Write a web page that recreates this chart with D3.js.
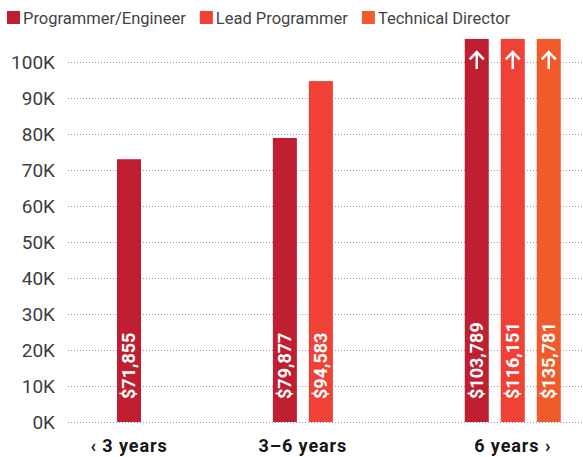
<!DOCTYPE html>
<html>
<head>
<meta charset="utf-8">
<script src="https://cdn.jsdelivr.net/npm/d3@7"></script>
<style>
  body { margin: 0; background: #fff; }
  svg { display: block; font-family: Roboto, "DejaVu Sans", sans-serif; }
</style>
</head>
<body>
<svg id="chart"></svg>
<script>
// categories and series
var categories = ["\u2039 3 years", "3\u20136 years", "6 years \u203a"];
var roles = ["Programmer/Engineer", "Lead Programmer", "Technical Director"];
var colors = ["#C01F32", "#EF4136", "#F15A2B"];

// bar heights as drawn in the picture (null = no bar)
var programmerEngineer = [73000, 78900, 103789];
var leadProgrammer = [null, 94700, 116151];
var technicalDirector = [null, null, 135781];

// printed labels
var programmerLabels = ["$71,855", "$79,877", "$103,789"];
var leadLabels = [null, "$94,583", "$116,151"];
var directorLabels = [null, null, "$135,781"];

var yTicks = [0, 10000, 20000, 30000, 40000, 50000, 60000, 70000, 80000, 90000, 100000];
var axisMax = 100000;   // anything above is drawn cut off with an arrow
var chartTop = 106400;  // value at the top edge of the bars

var W = 583, H = 457;
var margins = { top: 62, left: 68, bottom: 35, right: 0 };
var barStep = 36, barWidth = 24, groupGapUnits = 3.33, firstBar = 117;

var svg = d3.select("#chart").attr("width", W).attr("height", H);

var y = d3.scaleLinear().domain([0, axisMax]).range([H - margins.bottom, margins.top]);
var x = d3.scaleLinear().domain([0, 1]).range([firstBar, firstBar + barStep]);

// build bars
var series = [programmerEngineer, leadProgrammer, technicalDirector];
var labels = [programmerLabels, leadLabels, directorLabels];
var bars = [], groups = [];
var unit = 0;
categories.forEach(function(cat, ci) {
  var members = [];
  series.forEach(function(s, si) {
    if (s[ci] == null) return;
    var b = { cat: cat, role: si, value: s[ci], label: labels[si][ci], u: unit };
    bars.push(b); members.push(b);
    unit += 1;
  });
  groups.push({ cat: cat, members: members });
  unit += groupGapUnits;
});

// gridlines
var grid = d3.axisLeft(y).tickValues(yTicks).tickSize(-(W - margins.left)).tickFormat("");
svg.append("g").attr("class", "grid")
  .attr("transform", "translate(" + margins.left + ",0)")
  .call(grid)
  .call(function(g) { g.select(".domain").remove(); })
  .selectAll("line")
  .attr("stroke", "#8E97AC")
  .attr("stroke-width", 1)
  .attr("stroke-dasharray", "1,2");

// y axis labels
var yAxis = d3.axisLeft(y).tickValues(yTicks).tickSize(0).tickPadding(13)
  .tickFormat(function(d) { return (d / 1000) + "K"; });
svg.append("g")
  .attr("transform", "translate(" + margins.left + ",0)")
  .call(yAxis)
  .call(function(g) { g.select(".domain").remove(); })
  .selectAll("text")
  .attr("font-family", "Roboto")
  .attr("font-size", 19)
  .attr("fill", "#3d3d3d");

// bars
var barG = svg.append("g");
barG.selectAll("rect").data(bars).enter().append("rect")
  .attr("x", function(d) { return x(d.u); })
  .attr("width", barWidth)
  .attr("y", function(d) { return y(d.value > axisMax ? chartTop : d.value); })
  .attr("height", function(d) { return y(0) - y(d.value > axisMax ? chartTop : d.value); })
  .attr("fill", function(d) { return colors[d.role]; });

// arrows on cut-off bars
barG.selectAll("path.arrow").data(bars.filter(function(d) { return d.value > axisMax; }))
  .enter().append("path")
  .attr("class", "arrow")
  .attr("d", function(d) {
    var cx = x(d.u) + barWidth / 2, tip = y(chartTop) + 13;
    return "M" + cx + "," + (tip + 17) + "V" + (tip + 1) +
      "M" + (cx - 7) + "," + (tip + 7.5) + "L" + cx + "," + tip + "L" + (cx + 7) + "," + (tip + 7.5);
  })
  .attr("fill", "none")
  .attr("stroke", "#fff")
  .attr("stroke-width", 2.5);

// value labels inside bars
barG.selectAll("text").data(bars).enter().append("text")
  .attr("transform", function(d) {
    return "translate(" + (x(d.u) + barWidth / 2) + "," + (y(0) - 23) + ") rotate(-90)";
  })
  .attr("dy", "0.36em")
  .attr("font-family", "Roboto")
  .attr("font-weight", "bold")
  .attr("font-size", 18)
  .attr("fill", "#fff")
  .text(function(d) { return d.label; });

// category labels
svg.append("g").selectAll("text").data(groups).enter().append("text")
  .attr("x", function(g) {
    return d3.mean(g.members, function(d) { return x(d.u) + barWidth / 2; });
  })
  .attr("y", 452)
  .attr("text-anchor", "middle")
  .attr("font-family", "Roboto")
  .attr("font-weight", "bold")
  .attr("font-size", 18)
  .attr("letter-spacing", 0.9)
  .attr("fill", "#161616")
  .text(function(g) { return g.cat; });

// legend
var legend = svg.append("g");
var lx = 7;
roles.forEach(function(r, i) {
  legend.append("rect").attr("x", lx).attr("y", 11).attr("width", 13).attr("height", 13).attr("fill", colors[i]);
  var t = legend.append("text").attr("x", lx + 16).attr("y", 24)
    .attr("font-family", "Roboto").attr("font-size", 16.5)
    .attr("fill", "#444")
    .text(r);
  lx += 16 + t.node().getComputedTextLength() + 14;
});
</script>
</body>
</html>
